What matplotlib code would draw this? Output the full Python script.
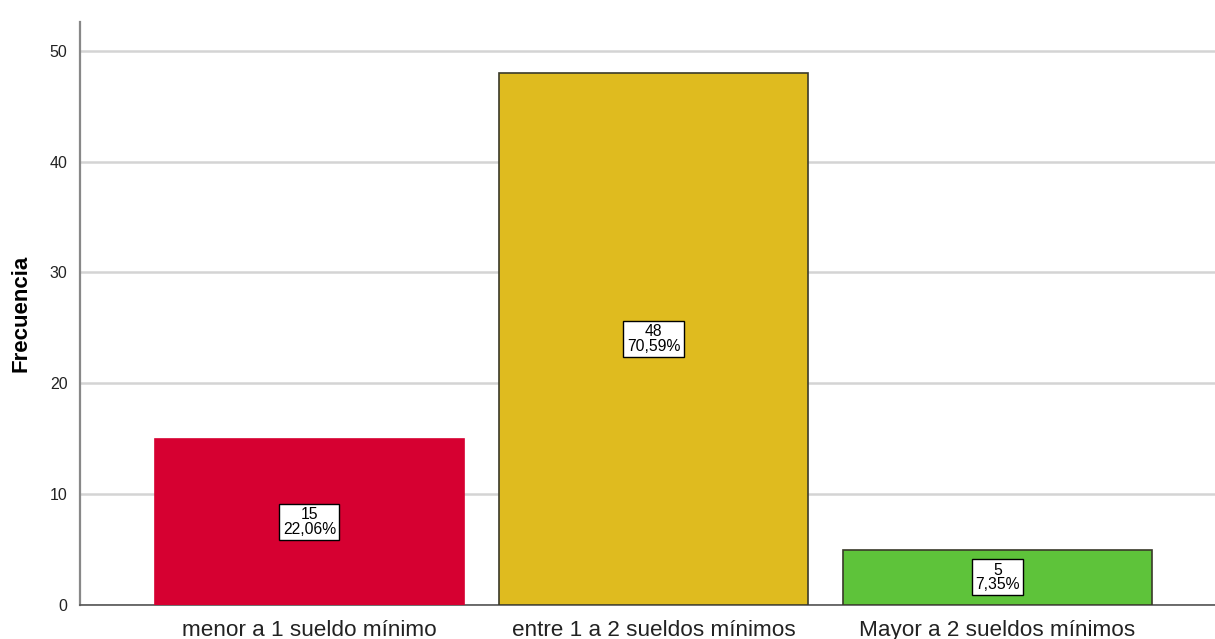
import numpy as np
import matplotlib.pyplot as plt

# Frequency table
categorias = ['menor a 1 sueldo mínimo', 'entre 1 a 2 sueldos mínimos', 'Mayor a 2 sueldos mínimos']
frecuencias = [15, 48, 5]
porcentajes = ['22,06%', '70,59%', '7,35%']
colores = ['#D60031', '#DFBB1F', '#5EC33A']
bordes = ['#D60031', '#3a3a2a', '#3a3a2a']

plt.rcParams['font.family'] = ['Arial', 'Liberation Sans', 'DejaVu Sans']

fig = plt.figure(figsize=(12.15, 6.39), dpi=100)
ax = fig.add_axes([80 / 1215, 34 / 639, 1135 / 1215, 583 / 639])

x = np.arange(len(categorias))
ax.bar(x, frecuencias, width=0.9, color=colores, edgecolor=bordes, linewidth=1.2, zorder=3)

for xi, f, p in zip(x, frecuencias, porcentajes):
    ax.text(xi, f / 2, f'{f}\n{p}', ha='center', va='center', fontsize=11.3,
            linespacing=0.95, zorder=4,
            bbox=dict(boxstyle='square,pad=0.22', fc='white', ec='black', lw=1))

ax.set_xlim(-0.667, 2.632)
ax.set_ylim(0, 52.6)
ax.set_yticks([0, 10, 20, 30, 40, 50])
ax.yaxis.grid(True, color='#d4d4d4', linewidth=1.8, zorder=0)
ax.set_axisbelow(True)

ax.set_xticks(x)
ax.set_xticklabels(categorias, fontsize=16.2, color='#222222')
ax.tick_params(axis='x', length=0, pad=11)
ax.tick_params(axis='y', length=0, labelsize=11.5, colors='#222222', pad=9)

for s in ['top', 'right']:
    ax.spines[s].set_visible(False)
ax.spines['left'].set_color('#888888')
ax.spines['left'].set_linewidth(1.6)
ax.spines['bottom'].set_color('#555555')
ax.spines['bottom'].set_linewidth(1.2)

ax.set_ylabel('Frecuencia', fontsize=16, fontweight='bold')
ax.yaxis.set_label_coords(-0.043, 0.5)

fig.savefig('out.png', dpi=100)
